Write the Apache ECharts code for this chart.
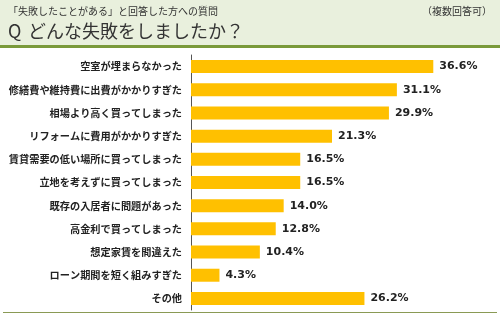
<!DOCTYPE html>
<html><head><meta charset="utf-8">
<script src="https://cdn.jsdelivr.net/npm/echarts@6/dist/echarts.min.js"></script>
<style>html,body{margin:0;padding:0;background:#fff}#c{width:500px;height:324px}</style>
</head><body><div id="c"></div>
<script>
const categories = ["空室が埋まらなかった","修繕費や維持費に出費がかかりすぎた","相場より高く買ってしまった","リフォームに費用がかかりすぎた","賃貸需要の低い場所に買ってしまった","立地を考えずに買ってしまった","既存の入居者に問題があった","高金利で買ってしまった","想定家賃を間違えた","ローン期間を短く組みすぎた","その他"];
const values = [36.6,31.1,29.9,21.3,16.5,16.5,14.0,12.8,10.4,4.3,26.2];
const subtitle = "「失敗したことがある」と回答した方への質問";
const titleQ = "Q";
const title = "どんな失敗をしましたか？";
const note = "（複数回答可）";
const jp = '"Noto Sans CJK JP", sans-serif';
const chart = echarts.init(document.getElementById('c'));
chart.setOption({
  animation:false,
  graphic:[
    {type:'rect',shape:{x:0,y:0,width:500,height:45},style:{fill:'#e9f0dd'},z:-1},
    {type:'rect',shape:{x:0,y:45,width:500,height:3},style:{fill:'#7a9a3a'}},
    {type:'line',shape:{x1:3,y1:312.5,x2:497,y2:312.5},style:{stroke:'#8a9a55',lineWidth:1}},
    {type:'text',left:8,top:6,style:{text:subtitle,font:'10px '+jp,fill:'#333'}},
    {type:'text',right:8,top:6,style:{text:note,font:'10px '+jp,fill:'#333'}},
    {type:'text',left:8,top:22,style:{text:titleQ,font:'18px '+jp,fill:'#333'}},
    {type:'text',left:28,top:22,style:{text:title,font:'18px '+jp,fill:'#333'}}
  ],
  grid:{left:191,top:55,width:264.8,height:255},
  xAxis:{type:'value',min:0,max:40,show:false},
  yAxis:{type:'category',data:categories,inverse:true,
    axisLine:{show:true,lineStyle:{color:'#555',width:1}},
    axisTick:{show:false},
    axisLabel:{margin:9,fontFamily:jp,fontSize:10.2,fontWeight:'bold',color:'#222'}},
  series:[{type:'bar',data:values,barWidth:13,itemStyle:{color:'#ffc000'},
    label:{show:true,position:'right',distance:6,formatter:p=>p.value.toFixed(1)+'%',
      fontFamily:'"DejaVu Sans"',fontWeight:'bold',fontSize:11,color:'#222'}}]
});
</script></body></html>
